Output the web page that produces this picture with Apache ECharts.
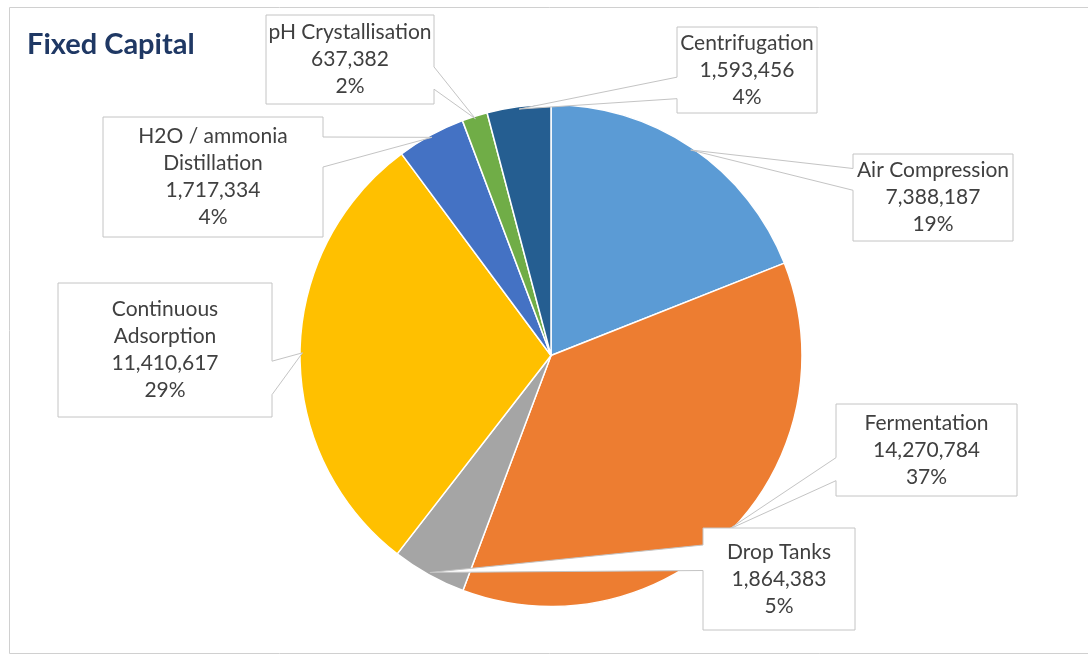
<!DOCTYPE html>
<html>
<head>
<meta charset="utf-8">
<script src="https://cdn.jsdelivr.net/npm/echarts@6/dist/echarts.min.js"></script>
<style>
  html, body { margin: 0; padding: 0; background: #ffffff; }
  #chart { width: 1088px; height: 655px; }
</style>
</head>
<body>
<div id="chart"></div>
<script>
// Fixed capital breakdown by process step
const categories = ['Air Compression', 'Fermentation', 'Drop Tanks', 'Continuous Adsorption',
  'H2O / ammonia Distillation', 'pH Crystallisation', 'Centrifugation'];
const nameLines = [['Air Compression'], ['Fermentation'], ['Drop Tanks'], ['Continuous', 'Adsorption'],
  ['H2O / ammonia', 'Distillation'], ['pH Crystallisation'], ['Centrifugation']];
const values = [7388187, 14270784, 1864383, 11410617, 1717334, 637382, 1593456];
const colors = ['#5B9BD5', '#ED7D31', '#A5A5A5', '#FFC000', '#4472C4', '#70AD47', '#255E91'];

// Callout box placement: [left, top, width, height]
const calloutBoxes = [
  [853, 154, 160, 87],
  [836, 404, 181, 92],
  [703, 528, 152, 102],
  [58, 283, 214, 134],
  [103, 117, 220, 120],
  [266, 15, 168, 89],
  [677, 27, 140, 86]
];

const LABEL_FONT = '21px Lato';
const LINE_H = 27;

const chart = echarts.init(document.getElementById('chart'), null, { renderer: 'canvas' });

const total = values.reduce((a, b) => a + b, 0);
const fmt = v => v.toLocaleString('en-US');

chart.setOption({
  animation: false,
  backgroundColor: '#ffffff',
  title: {
    text: 'Fixed Capital',
    left: 22, top: 25,
    textStyle: { fontFamily: 'Lato', fontWeight: 'bold', fontSize: 29, color: '#1F3864' }
  },
  series: [{
    type: 'pie',
    center: [551, 355.5],
    radius: 251,
    startAngle: 90,
    clockwise: true,
    label: { show: false },
    labelLine: { show: false },
    itemStyle: { borderColor: '#ffffff', borderWidth: 1.5 },
    emphasis: { disabled: true },
    data: categories.map((c, i) => ({ name: c, value: values[i], itemStyle: { color: colors[i] } }))
  }]
});

// Rectangle with a wedge pointing at (xt, yt), in the style of a wedge callout
function calloutPoints(l, t, w, h, xt, yt) {
  const hc = l + w / 2, vc = t + h / 2;
  const dx = xt - hc, dy = yt - vc;
  const dq = dx * h / w;
  const dz = Math.abs(dy) - Math.abs(dq);
  const x1 = l + w * (dx > 0 ? 7 : 2) / 12, x2 = l + w * (dx > 0 ? 10 : 5) / 12;
  const y1 = t + h * (dy > 0 ? 7 : 2) / 12, y2 = t + h * (dy > 0 ? 10 : 5) / 12;
  const r = l + w, b = t + h;
  const pts = [[l, t]];
  if (dz > 0 && dy < 0) pts.push([x1, t], [xt, yt], [x2, t]);
  pts.push([r, t]);
  if (dz <= 0 && dx > 0) pts.push([r, y1], [xt, yt], [r, y2]);
  pts.push([r, b]);
  if (dz > 0 && dy > 0) pts.push([x2, b], [xt, yt], [x1, b]);
  pts.push([l, b]);
  if (dz <= 0 && dx < 0) pts.push([l, y2], [xt, yt], [l, y1]);
  return pts;
}

const pieData = chart.getModel().getSeriesByIndex(0).getData();
const elements = [{
  type: 'rect', z: 1, silent: true,
  shape: { x: 9.5, y: 7.5, width: 1100, height: 646 },
  style: { fill: 'none', stroke: '#d0d0d0', lineWidth: 1 }
}];

categories.forEach((c, i) => {
  const lay = pieData.getItemLayout(i);
  const mid = (lay.startAngle + lay.endAngle) / 2;
  const tx = lay.cx + lay.r * 0.99 * Math.cos(mid);
  const ty = lay.cy + lay.r * 0.99 * Math.sin(mid);
  const [l, t, w, h] = calloutBoxes[i];
  const pct = Math.round(values[i] / total * 100) + '%';
  const lines = nameLines[i].concat([fmt(values[i]), pct]);
  elements.push({
    type: 'polygon', z: 20, silent: true,
    shape: { points: calloutPoints(l, t, w, h, tx, ty) },
    style: { fill: '#ffffff', stroke: '#c4c4c4', lineWidth: 1 }
  });
  const startY = t + h / 2 - (lines.length - 1) * LINE_H / 2;
  lines.forEach((txt, k) => {
    elements.push({
      type: 'text', z: 21, silent: true,
      style: {
        text: txt, x: l + w / 2, y: startY + k * LINE_H,
        align: 'center', verticalAlign: 'middle',
        font: LABEL_FONT, fill: '#404040'
      }
    });
  });
});

chart.setOption({ graphic: { elements } });
</script>
</body>
</html>
